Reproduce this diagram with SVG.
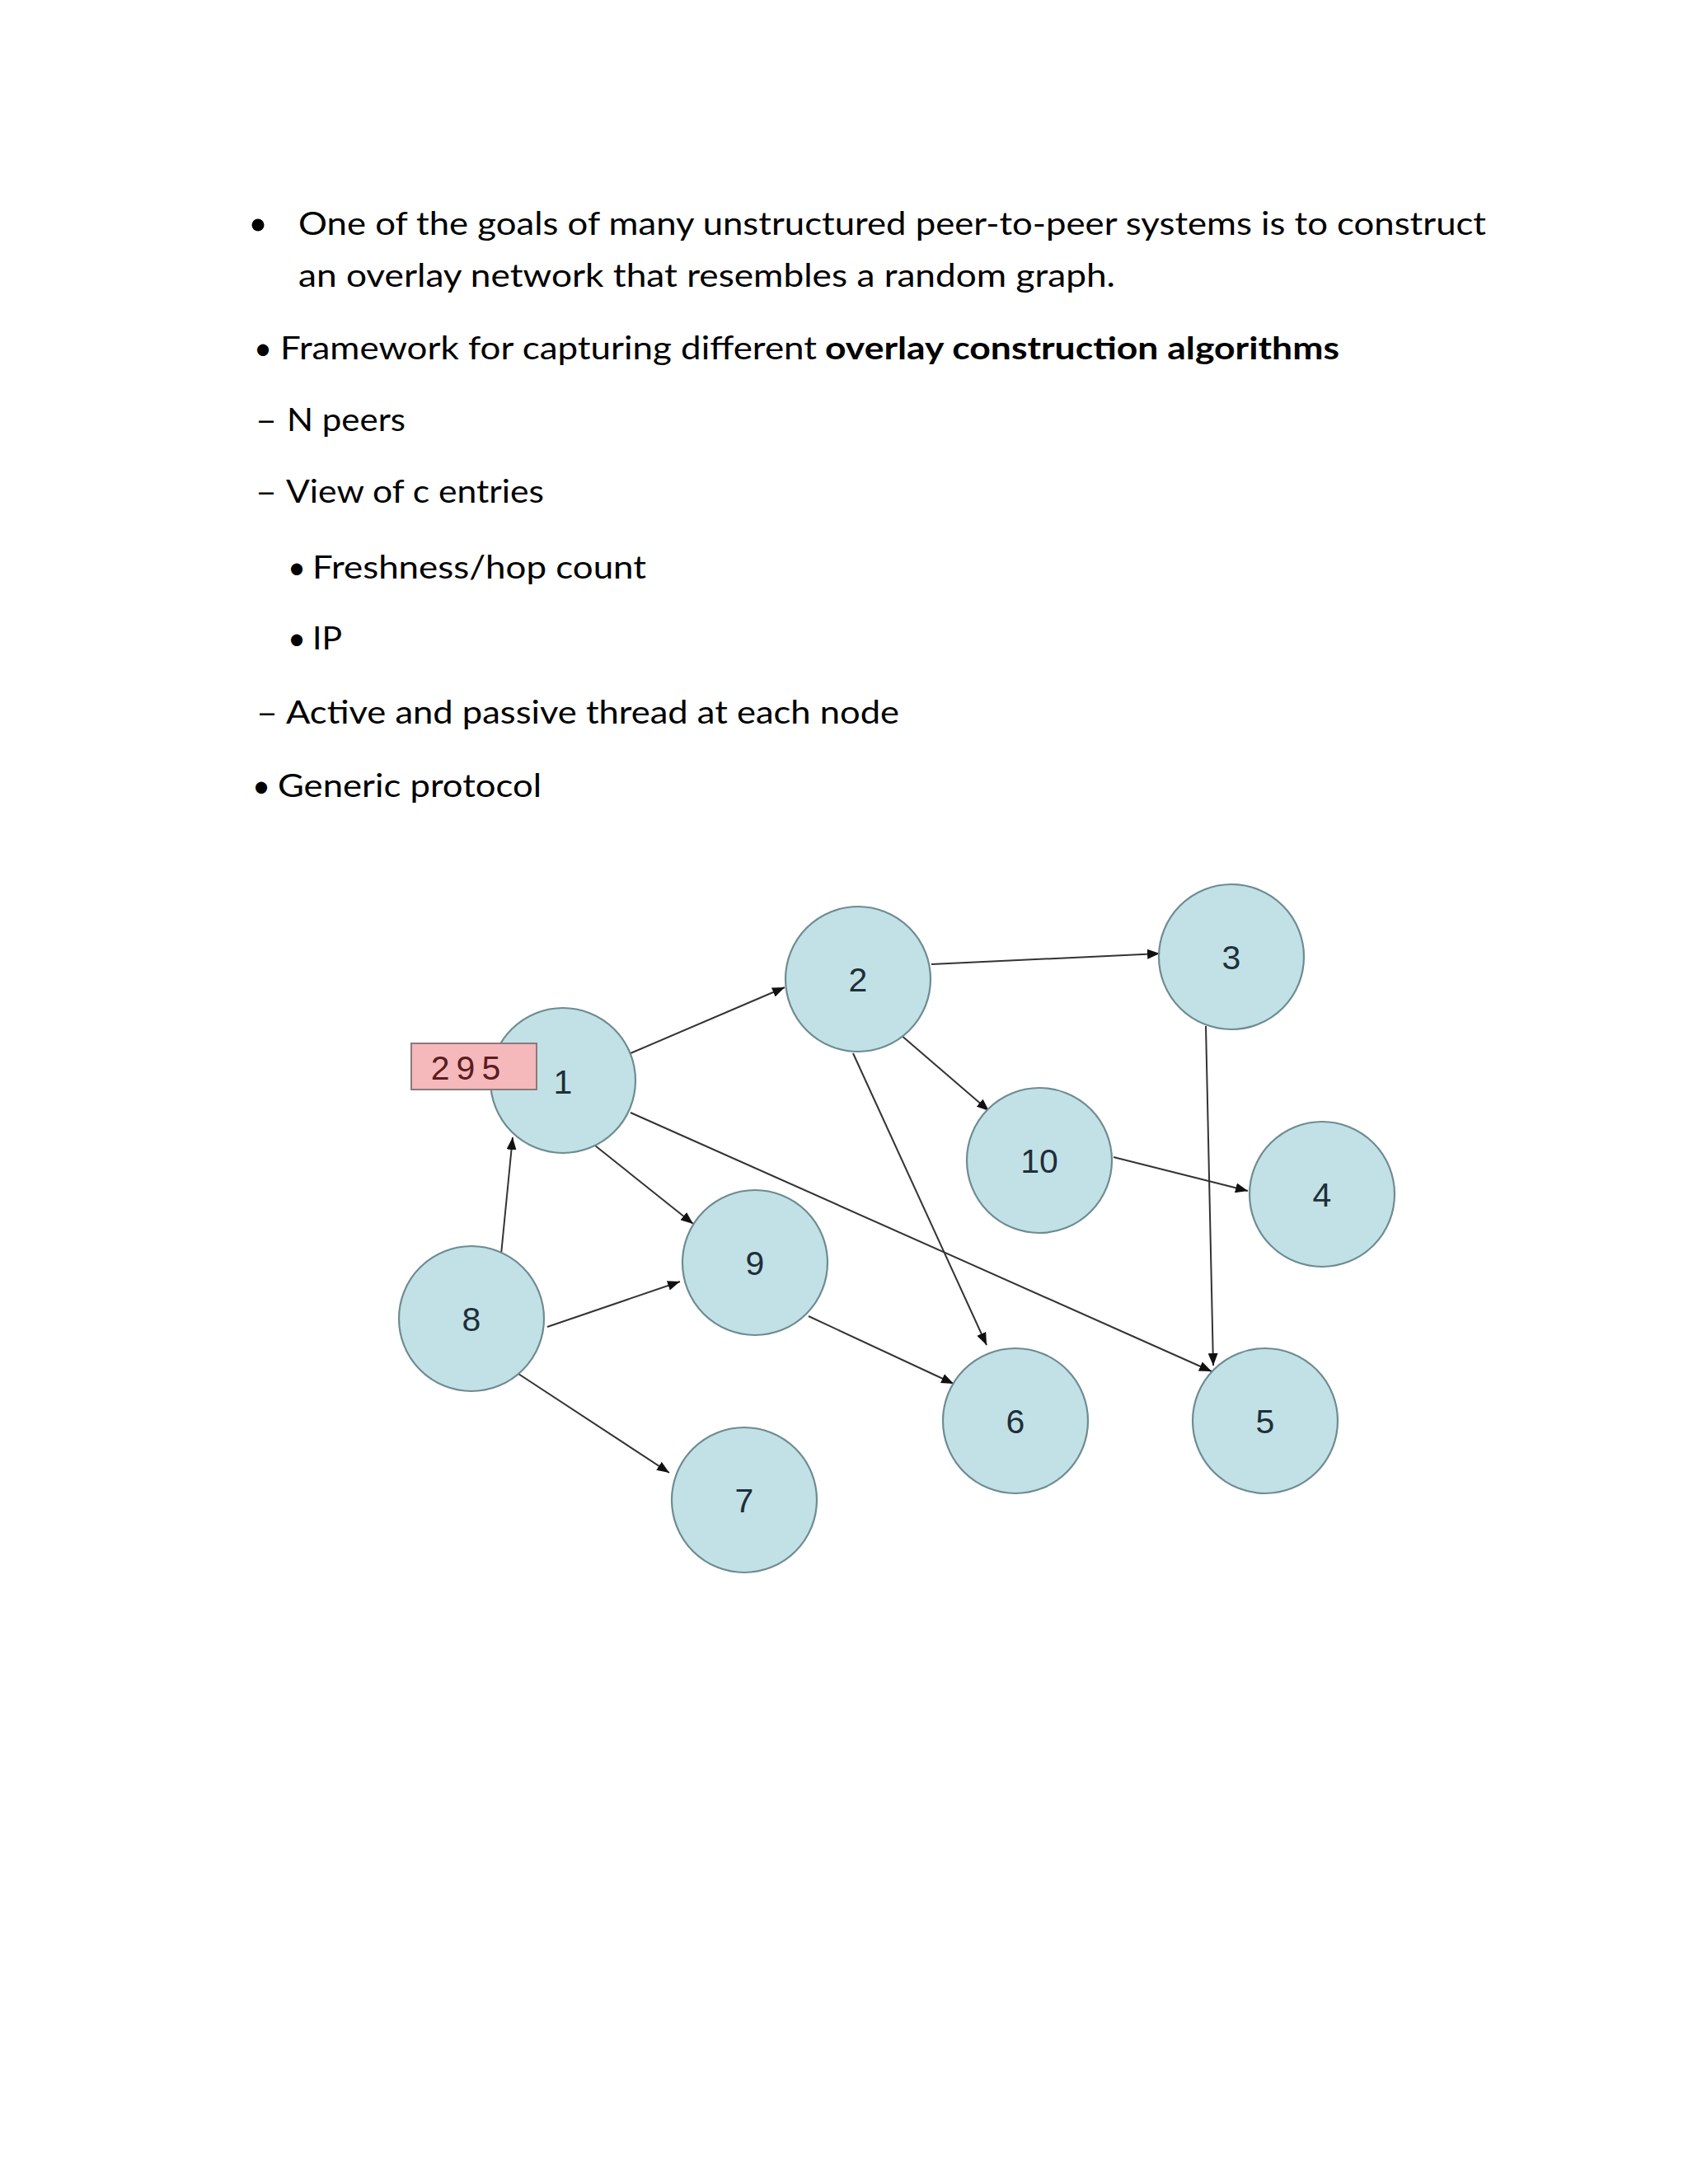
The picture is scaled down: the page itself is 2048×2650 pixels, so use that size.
<svg xmlns="http://www.w3.org/2000/svg" width="2048" height="2650" viewBox="0 0 2048 2650">
<style>
.t{font-family:Lato,"Open Sans","Liberation Sans",sans-serif;font-size:38px;fill:#000}
.b{font-weight:bold}
.node circle{fill:#c2e1e6;stroke:#6e8c90;stroke-width:2.2}
.node text{font-family:"Liberation Sans",Arial,sans-serif;font-size:41px;fill:#1f2f3a;text-anchor:middle}
.edges line{stroke:#333;stroke-width:2;marker-end:url(#ah)}
</style>
<defs>
<marker id="ah" markerUnits="userSpaceOnUse" markerWidth="16" markerHeight="12" refX="15" refY="6" orient="auto">
<path d="M0,0 L15,6 L0,12 z" fill="#111"/>
</marker>
</defs>
<rect width="2048" height="2650" fill="#fff"/>
<g id="text">
<circle cx="313" cy="273" r="7.5" fill="#000"/>
<text class="t" x="362" y="285" textLength="1441" lengthAdjust="spacingAndGlyphs">One of the goals of many unstructured peer-to-peer systems is to construct</text>
<text class="t" x="362" y="348" textLength="991" lengthAdjust="spacingAndGlyphs">an overlay network that resembles a random graph.</text>
<text class="t" x="308" y="436">•</text>
<text class="t" x="340" y="436" textLength="651" lengthAdjust="spacingAndGlyphs">Framework for capturing different</text>
<text class="t b" x="1001" y="436" textLength="624" lengthAdjust="spacingAndGlyphs">overlay construction algorithms</text>
<text class="t" x="310" y="523" textLength="26" lengthAdjust="spacingAndGlyphs">–</text>
<text class="t" x="348" y="523" textLength="144" lengthAdjust="spacingAndGlyphs">N peers</text>
<text class="t" x="310" y="610" textLength="26" lengthAdjust="spacingAndGlyphs">–</text>
<text class="t" x="347" y="610" textLength="313" lengthAdjust="spacingAndGlyphs">View of c entries</text>
<text class="t" x="349" y="702">•</text>
<text class="t" x="379" y="702" textLength="405" lengthAdjust="spacingAndGlyphs">Freshness/hop count</text>
<text class="t" x="349" y="788">•</text>
<text class="t" x="379" y="788" textLength="36" lengthAdjust="spacingAndGlyphs">IP</text>
<text class="t" x="311" y="878" textLength="26" lengthAdjust="spacingAndGlyphs">–</text>
<text class="t" x="347" y="878" textLength="744" lengthAdjust="spacingAndGlyphs">Active and passive thread at each node</text>
<text class="t" x="306" y="967">•</text>
<text class="t" x="337" y="967" textLength="320" lengthAdjust="spacingAndGlyphs">Generic protocol</text>
</g>
<g class="edges" id="connectors">
<line x1="765" y1="1278" x2="952" y2="1198"/>
<line x1="1130" y1="1170" x2="1407" y2="1157"/>
<line x1="1092" y1="1255" x2="1200" y2="1348"/>
<line x1="1035" y1="1278" x2="1197" y2="1632"/>
<line x1="1463" y1="1245" x2="1472" y2="1657"/>
<line x1="765" y1="1350" x2="1470" y2="1664"/>
<line x1="1351" y1="1404" x2="1514" y2="1445"/>
<line x1="722" y1="1390" x2="841" y2="1485"/>
<line x1="608" y1="1522" x2="622" y2="1380"/>
<line x1="664" y1="1610" x2="825" y2="1555"/>
<line x1="626" y1="1665" x2="812" y2="1787"/>
<line x1="981" y1="1597" x2="1157" y2="1679"/>
</g>
<g class="node" id="node1"><circle cx="683" cy="1311" r="88"/><text x="683" y="1327">1</text></g>
<g id="label295"><rect x="499" y="1266" width="152" height="56" fill="#f5b8bb" stroke="#8a7a7a" stroke-width="2"/><text x="569" y="1310" text-anchor="middle" font-family="Liberation Sans,Arial,sans-serif" font-size="41" letter-spacing="8" fill="#5a1c20">295</text></g>
<g class="node" id="node2"><circle cx="1041" cy="1188" r="88"/><text x="1041" y="1203">2</text></g>
<g class="node" id="node3"><circle cx="1494" cy="1161" r="88"/><text x="1494" y="1176">3</text></g>
<g class="node" id="node10"><circle cx="1261" cy="1408" r="88"/><text x="1261" y="1423">10</text></g>
<g class="node" id="node4"><circle cx="1604" cy="1449" r="88"/><text x="1604" y="1464">4</text></g>
<g class="node" id="node9"><circle cx="916" cy="1532" r="88"/><text x="916" y="1547">9</text></g>
<g class="node" id="node8"><circle cx="572" cy="1600" r="88"/><text x="572" y="1615">8</text></g>
<g class="node" id="node6"><circle cx="1232" cy="1724" r="88"/><text x="1232" y="1739">6</text></g>
<g class="node" id="node5"><circle cx="1535" cy="1724" r="88"/><text x="1535" y="1739">5</text></g>
<g class="node" id="node7"><circle cx="903" cy="1820" r="88"/><text x="903" y="1835">7</text></g>
</svg>
